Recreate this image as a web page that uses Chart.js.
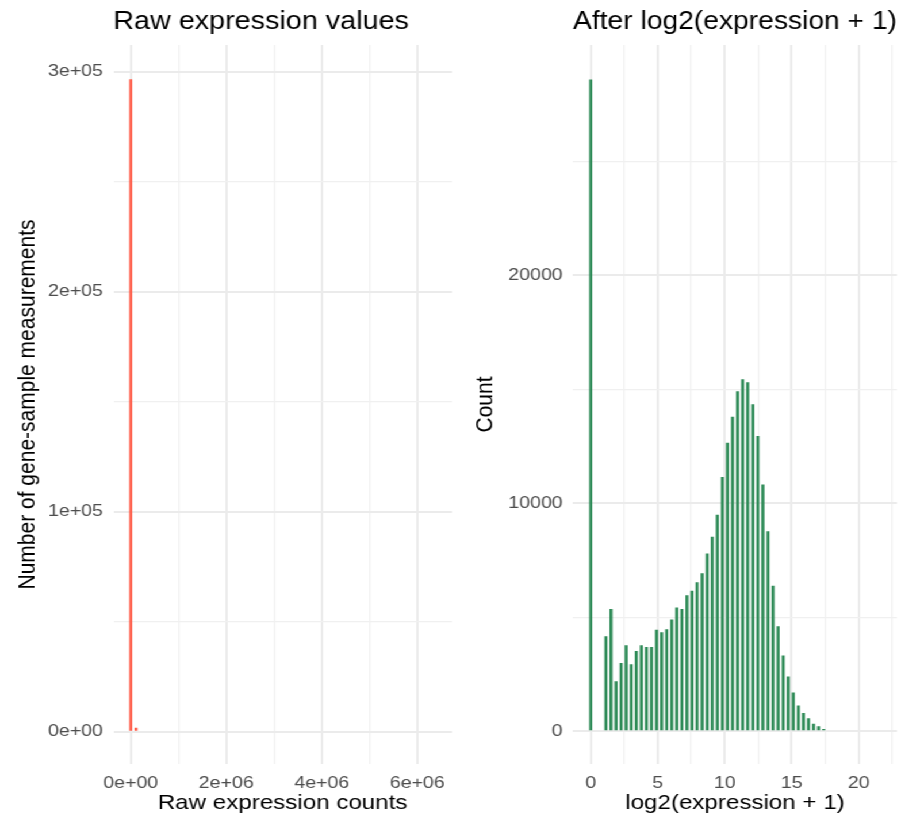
<!DOCTYPE html>
<html>
<head>
<meta charset="utf-8">
<title>Expression histograms</title>
<script src="https://cdn.jsdelivr.net/npm/chart.js@4.4.1/dist/chart.umd.min.js"></script>
<style>
  html, body { margin: 0; background: #fff; }
  /* the panels are drawn a little narrower and stretched out sideways */
  #wrap { position: relative; width: 792px; height: 818px; transform: scaleX(1.15); transform-origin: 0 0; }
  canvas { position: absolute; top: 0; }
  #rawChart { left: 0; }
  #logChart { left: 400px; }
</style>
</head>
<body>
<div id="wrap">
  <canvas id="rawChart" width="400" height="818"></canvas>
  <canvas id="logChart" width="392" height="818"></canvas>
</div>
<script>
// raw counts histogram: 60 bins of ~110k, almost everything lands in the first one
const rawBinWidth = 110000;
const rawCounts = [
  296500, 1800, 0, 0, 0, 0, 0, 0, 0, 0,
  0, 0, 0, 0, 0, 0, 0, 0, 0, 0,
  0, 0, 0, 0, 0, 0, 0, 0, 0, 0,
  0, 0, 0, 0, 0, 0, 0, 0, 0, 0,
  0, 0, 0, 0, 0, 0, 0, 0, 0, 0,
  0, 0, 0, 0, 0, 0, 0, 0, 0, 0
];
const rawXTicks = [0, 1000000, 2000000, 3000000, 4000000, 5000000, 6000000];
const rawXLabels = ["0e+00", "", "2e+06", "", "4e+06", "", "6e+06"];
const rawYTicks = [0, 50000, 100000, 150000, 200000, 250000, 300000];
const rawYLabels = ["0e+00", "", "1e+05", "", "2e+05", "", "3e+05"];

// log2(x + 1) histogram
const logBinWidth = 0.378;
const logCounts = [
  28600, 0, 0, 4170, 5370, 2200, 3000, 3770, 2940, 3520,
  3770, 3700, 3700, 4450, 4340, 4480, 4900, 5430, 5370, 5970,
  6170, 6540, 6930, 7800, 8540, 9500, 11160, 12660, 13800, 14920,
  15440, 15310, 14350, 12950, 10830, 8780, 6390, 4610, 3320, 2400,
  1700, 1135, 800, 570, 330, 220, 100, 45, 0, 0,
  0, 0, 0, 0, 0, 0, 0, 0
];
const logXTicks = [0, 2.5, 5, 7.5, 10, 12.5, 15, 17.5, 20, 22.5];
const logXLabels = ["0", "", "5", "", "10", "", "15", "", "20", ""];
const logYTicks = [0, 5000, 10000, 15000, 20000, 25000];
const logYLabels = ["0", "", "10000", "", "20000", ""];

const FONT = "'Liberation Sans', Arial, Helvetica, sans-serif";

function axis(ticks, labels, extra) {
  return Object.assign({
    type: "linear",
    offset: false,
    border: { display: false },
    afterBuildTicks: (scale) => {
      scale.ticks = ticks.map((v) => ({ value: v }));
    },
    grid: {
      offset: false,
      drawTicks: false,
      color: (c) => (labels[c.index] === "" ? "#f0f0f0" : "#ebebeb"),
      lineWidth: (c) => (labels[c.index] === "" ? 1.3 : 2),
    },
    ticks: {
      autoSkip: false,
      maxRotation: 0,
      padding: 9,
      color: "#4d4d4d",
      font: { family: FONT, size: 17 },
      callback: (value, i) => labels[i],
    },
  }, extra);
}

function histogram(id, opts) {
  const points = opts.counts.map((c, i) => ({ x: i * opts.binWidth, y: c }));
  return new Chart(document.getElementById(id), {
    type: "bar",
    data: {
      datasets: [{
        data: points,
        backgroundColor: opts.color,
        borderWidth: 0,
        barPercentage: opts.barPercentage,
        categoryPercentage: 1,
      }],
    },
    options: {
      responsive: false,
      animation: false,
      devicePixelRatio: 1,
      layout: { padding: { left: 0, right: opts.padRight, top: 0, bottom: 0 } },
      plugins: {
        legend: { display: false },
        tooltip: { enabled: false },
        title: {
          display: true,
          text: opts.title,
          align: "start",
          fullSize: false,
          color: "#000",
          font: { family: FONT, size: 25, weight: "normal" },
          padding: { top: 7, bottom: 8 },
        },
      },
      scales: {
        x: axis(opts.xTicks, opts.xLabels, {
          min: opts.xMin,
          max: opts.xMax,
          afterFit: (scale) => { scale.height = 54; },
          title: {
            display: true,
            text: opts.xTitle,
            color: "#000",
            font: { family: FONT, size: 21 },
            padding: { top: 0, bottom: 2 },
          },
        }),
        y: axis(opts.yTicks, opts.yLabels, {
          min: opts.yMin,
          max: opts.yMax,
          afterFit: (scale) => { scale.width = opts.yWidth; },
          title: {
            display: true,
            text: opts.yTitle,
            color: "#000",
            font: { family: FONT, size: 21 },
            padding: { top: opts.yTitlePad, bottom: 0 },
          },
        }),
      },
    },
  });
}

histogram("rawChart", {
  counts: rawCounts,
  binWidth: rawBinWidth,
  color: "#ff5a45",
  barPercentage: 0.55,
  title: "Raw expression values",
  xTitle: "Raw expression counts",
  yTitle: "Number of gene-sample measurements",
  xTicks: rawXTicks, xLabels: rawXLabels,
  yTicks: rawYTicks, yLabels: rawYLabels,
  xMin: -365000, xMax: 6725000,
  yMin: -14700, yMax: 312100,
  yWidth: 98.5, padRight: 7, yTitlePad: 12,
});

histogram("logChart", {
  counts: logCounts,
  binWidth: logBinWidth,
  color: "seagreen",
  barPercentage: 0.6,
  title: "After log2(expression + 1)",
  xTitle: "log2(expression + 1)",
  yTitle: "Count",
  xTicks: logXTicks, xLabels: logXLabels,
  yTicks: logYTicks, yLabels: logYLabels,
  xMin: -1.32, xMax: 22.86,
  yMin: -1436, yMax: 30110,
  yWidth: 98.3, padRight: 12, yTitlePad: 10,
});
</script>
</body>
</html>
